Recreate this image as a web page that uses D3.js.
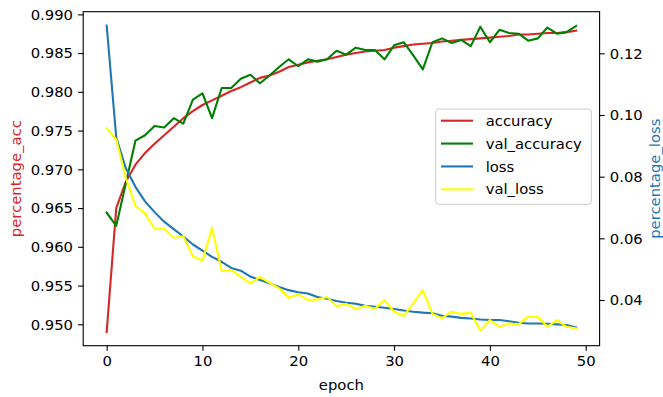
<!DOCTYPE html>
<html>
<head>
<meta charset="utf-8">
<script src="https://cdn.jsdelivr.net/npm/d3@7"></script>
<style>
  html, body { margin: 0; padding: 0; background: #fff; }
  svg { display: block; font-family: "DejaVu Sans", sans-serif; }
</style>
</head>
<body>
<svg id="chart" width="663" height="397"></svg>
<script>
const epochs = d3.range(0, 50);
const accuracy = [0.9490,0.9650,0.9684,0.9706,0.9721,0.9733,0.9744,0.9755,0.9766,0.9775,0.9783,0.9789,0.9795,0.9801,0.9806,0.9812,0.9818,0.9821,0.9826,0.9832,0.9835,0.9838,0.9840,0.9842,0.9845,0.9848,0.9850,0.9852,0.9853,0.9854,0.9857,0.9859,0.9861,0.9862,0.9863,0.9865,0.9866,0.9867,0.9868,0.9869,0.9870,0.9871,0.9872,0.9874,0.9874,0.9875,0.9876,0.9876,0.9877,0.9879];
const valAccuracy = [0.9644,0.9627,0.9682,0.9737,0.9744,0.9756,0.9754,0.9766,0.9759,0.9790,0.9798,0.9766,0.9805,0.9805,0.9817,0.9822,0.9811,0.9821,0.9832,0.9842,0.9833,0.9842,0.9839,0.9842,0.9853,0.9848,0.9857,0.9854,0.9854,0.9842,0.9860,0.9864,0.9847,0.9829,0.9864,0.9869,0.9863,0.9867,0.9859,0.9884,0.9864,0.9880,0.9876,0.9875,0.9866,0.9869,0.9883,0.9875,0.9877,0.9885];
const loss = [0.1290,0.0927,0.0827,0.0767,0.0720,0.0685,0.0654,0.0630,0.0606,0.0580,0.0560,0.0540,0.0524,0.0504,0.0495,0.0476,0.0465,0.0454,0.0442,0.0432,0.0425,0.0421,0.0410,0.0404,0.0397,0.0391,0.0388,0.0381,0.0378,0.0375,0.0371,0.0366,0.0362,0.0359,0.0357,0.0349,0.0346,0.0342,0.0340,0.0337,0.0335,0.0335,0.0331,0.0326,0.0324,0.0324,0.0323,0.0321,0.0319,0.0311];
const valLoss = [0.0957,0.0921,0.0796,0.0705,0.0681,0.0631,0.0631,0.0602,0.0607,0.0542,0.0527,0.0634,0.0494,0.0497,0.0475,0.0454,0.0475,0.0456,0.0438,0.0407,0.0418,0.0400,0.0402,0.0410,0.0380,0.0387,0.0371,0.0381,0.0371,0.0400,0.0362,0.0348,0.0389,0.0432,0.0355,0.0341,0.0362,0.0355,0.0359,0.0300,0.0335,0.0313,0.0324,0.0321,0.0346,0.0345,0.0313,0.0335,0.0313,0.0308];

const xTicks = [0, 10, 20, 30, 40, 50];
const accTicks = [0.950, 0.955, 0.960, 0.965, 0.970, 0.975, 0.980, 0.985, 0.990];
const lossTicks = [0.04, 0.06, 0.08, 0.10, 0.12];

const seriesNames = ["accuracy", "val_accuracy", "loss", "val_loss"];
const seriesColors = ["#d62728", "#008000", "#1f77b4", "#ffff00"];

const L = 83.2, R = 599.6, T = 11.7, B = 345.7;
const FS = 14.8, TICK = 5.1, PAD = 5.1;

const svg = d3.select("#chart");
const x = d3.scaleLinear().domain([-2.45, 51.45]).range([L, R]);
const yL = d3.scaleLinear().domain([0.94724, 0.99034]).range([B, T]);
const yR = d3.scaleLinear().domain([0.02518, 0.1335]).range([B, T]);

svg.append("defs").append("clipPath").attr("id", "clip")
  .append("rect").attr("x", L).attr("y", T).attr("width", R - L).attr("height", B - T);

const plot = svg.append("g").attr("clip-path", "url(#clip)");
const lineL = d3.line().x((d, i) => x(epochs[i])).y(d => yL(d));
const lineR = d3.line().x((d, i) => x(epochs[i])).y(d => yR(d));

const data = [accuracy, valAccuracy, loss, valLoss];
const gens = [lineL, lineL, lineR, lineR];
data.forEach((arr, k) => {
  plot.append("path").attr("d", gens[k](arr))
    .attr("fill", "none").attr("stroke", seriesColors[k])
    .attr("stroke-width", 2.1).attr("stroke-linejoin", "round").attr("stroke-linecap", "square");
});

function styleAxis(g) {
  g.select(".domain").remove();
  g.selectAll(".tick line").attr("stroke", "#000").attr("stroke-width", 1.1);
  g.selectAll(".tick text").attr("fill", "#000").style("font-size", FS + "px").style("font-family", "DejaVu Sans");
}

svg.append("g").attr("transform", `translate(0,${B})`)
  .call(d3.axisBottom(x).tickValues(xTicks).tickFormat(d3.format("d")).tickSize(TICK).tickPadding(PAD))
  .call(styleAxis);
svg.append("g").attr("transform", `translate(${L},0)`)
  .call(d3.axisLeft(yL).tickValues(accTicks).tickFormat(d3.format(".3f")).tickSize(TICK).tickPadding(PAD))
  .call(styleAxis);
svg.append("g").attr("transform", `translate(${R},0)`)
  .call(d3.axisRight(yR).tickValues(lossTicks).tickFormat(d3.format(".2f")).tickSize(TICK).tickPadding(PAD))
  .call(styleAxis);

// frame
svg.append("rect").attr("x", L).attr("y", T).attr("width", R - L).attr("height", B - T)
  .attr("fill", "none").attr("stroke", "#000").attr("stroke-width", 1.1);

// axis labels
svg.append("text").attr("x", (L + R) / 2).attr("y", 390).attr("text-anchor", "middle")
  .style("font-size", FS + "px").attr("fill", "#000").text("epoch");
svg.append("text").attr("transform", `translate(21,${(T + B) / 2}) rotate(-90)`).attr("text-anchor", "middle")
  .style("font-size", FS + "px").attr("fill", "#d62728").text("percentage_acc");
svg.append("text").attr("transform", `translate(659.5,${(T + B) / 2}) rotate(-90)`).attr("text-anchor", "middle")
  .style("font-size", FS + "px").attr("fill", "#1f77b4").text("percentage_loss");

// legend
const lg = svg.append("g");
lg.append("rect").attr("x", 435.7).attr("y", 109).attr("width", 155.6).attr("height", 95.3)
  .attr("rx", 3).attr("fill", "#fff").attr("fill-opacity", 0.8).attr("stroke", "#cccccc").attr("stroke-width", 1);
seriesNames.forEach((name, i) => {
  const cy = 120.7 + i * 22.87;
  lg.append("line").attr("x1", 441).attr("x2", 473).attr("y1", cy).attr("y2", cy)
    .attr("stroke", seriesColors[i]).attr("stroke-width", 2.1);
  lg.append("text").attr("x", 485.7).attr("y", cy).attr("dy", "0.35em")
    .style("font-size", FS + "px").attr("fill", "#000").text(name);
});
</script>
</body>
</html>
